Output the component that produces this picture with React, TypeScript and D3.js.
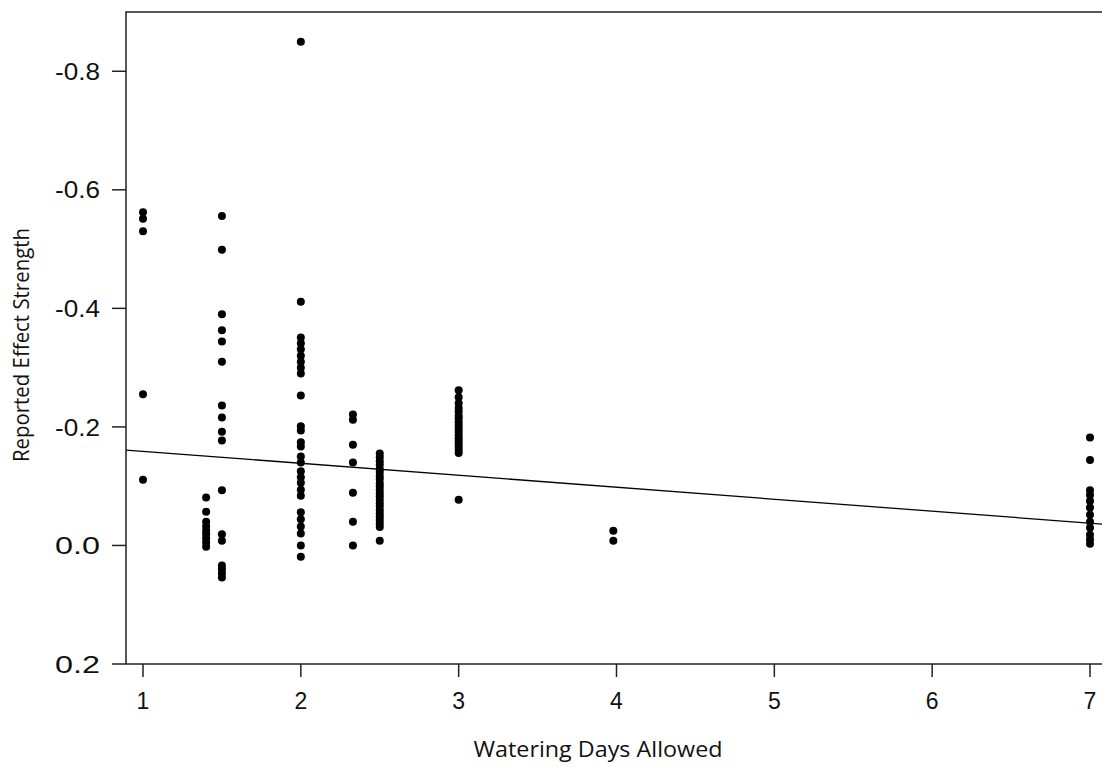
import React from "react";
import * as d3 from "d3";

// watering days allowed per group, and the reported effect strengths
const days = [1, 1.4, 1.5, 2, 2.33, 2.5, 3, 3.98, 7];

const effects: number[][] = [
  [-0.562, -0.551, -0.530, -0.255, -0.111],
  [-0.081, -0.057, -0.040, -0.032, -0.025, -0.019, -0.012, -0.005, 0.002],
  [-0.556, -0.499, -0.390, -0.363, -0.344, -0.310, -0.236, -0.216, -0.192, -0.177,
    -0.093, -0.019, -0.008, 0.034, 0.040, 0.047, 0.054],
  [-0.850, -0.411, -0.351, -0.341, -0.331, -0.320, -0.310, -0.300, -0.290, -0.253,
    -0.201, -0.194, -0.174, -0.167, -0.150, -0.140, -0.125, -0.115, -0.106, -0.094,
    -0.084, -0.056, -0.044, -0.032, -0.020, 0.000, 0.019],
  [-0.221, -0.212, -0.170, -0.140, -0.089, -0.040, 0.000],
  [-0.155, -0.149, -0.142, -0.136, -0.129, -0.124, -0.117, -0.112, -0.105, -0.100,
    -0.094, -0.088, -0.083, -0.077, -0.071, -0.066, -0.060, -0.054, -0.049, -0.043,
    -0.037, -0.031, -0.008],
  [-0.262, -0.250, -0.240, -0.232, -0.226, -0.219, -0.214, -0.208, -0.202, -0.197,
    -0.192, -0.186, -0.181, -0.176, -0.171, -0.166, -0.161, -0.156, -0.077],
  [-0.025, -0.008],
  [-0.182, -0.144, -0.093, -0.085, -0.075, -0.064, -0.052, -0.040, -0.030, -0.018,
    -0.010, -0.003],
];

const xTicks = [1, 2, 3, 4, 5, 6, 7];
const yTicks = [-0.8, -0.6, -0.4, -0.2, 0.0, 0.2];

// fitted line: effect = intercept + slope * days
const intercept = -0.179;
const slope = 0.0202;

const W = 1102;
const H = 767;
const left = 126;
const top = 12;
const bottom = 664;

const App = () => {
  const x = d3.scaleLinear().domain([1, 7]).range([143, 1090]);
  const y = d3.scaleLinear().domain([-0.9, 0.2]).range([top, bottom]);

  const points = days.flatMap((d, i) => effects[i].map(v => ({d, v})));
  const xMin = x.invert(left);
  const xMax = x.invert(W);
  const fit = d3.line<number>()
    .x(d => x(d))
    .y(d => y(intercept + slope * d));

  const tickFont = "'Liberation Sans', Arial, sans-serif";
  const titleFont = "'Open Sans', sans-serif";

  return (
    <svg width={W} height={H} style={{position: "absolute", left: 0, top: 0, background: "#fff"}}>
      <g fill="#000">
        {points.map((p, i) => (
          <circle key={i} cx={x(p.d)} cy={y(p.v)} r={4}/>
        ))}
      </g>
      <path d={fit([xMin, xMax]) || ""} fill="none" stroke="#000" strokeWidth={1.3}/>

      {/* frame */}
      <path d={`M${W},${top}H${left}V${bottom}H${W}`} fill="none" stroke="#222" strokeWidth={1.5}/>

      {/* y axis */}
      {yTicks.map(t => (
        <g key={t} transform={`translate(0,${y(t)})`}>
          <line x1={left - 14} x2={left} stroke="#222" strokeWidth={1.5}/>
          <text x={100} dy="0.36em" textAnchor="end" fontFamily={tickFont} fontSize={24}
                textLength={45} lengthAdjust="spacingAndGlyphs" fill="#111">
            {d3.format(".1f")(t).replace("−", "-")}
          </text>
        </g>
      ))}

      {/* x axis */}
      {xTicks.map(t => (
        <g key={t} transform={`translate(${x(t)},0)`}>
          <line y1={bottom} y2={bottom + 13} stroke="#222" strokeWidth={1.5}/>
          <text y={709} textAnchor="middle" fontFamily={tickFont} fontSize={23} fill="#111">{t}</text>
        </g>
      ))}

      <text x={598} y={757} textAnchor="middle" fontFamily={titleFont} fontSize={22}
            textLength={249} lengthAdjust="spacingAndGlyphs" fill="#111">
        Watering Days Allowed
      </text>
      <text transform="translate(29,345) rotate(-90)" textAnchor="middle" fontFamily={titleFont}
            fontSize={21} textLength={234} lengthAdjust="spacingAndGlyphs" fill="#111">
        Reported Effect Strength
      </text>
    </svg>
  );
};

export default App;
